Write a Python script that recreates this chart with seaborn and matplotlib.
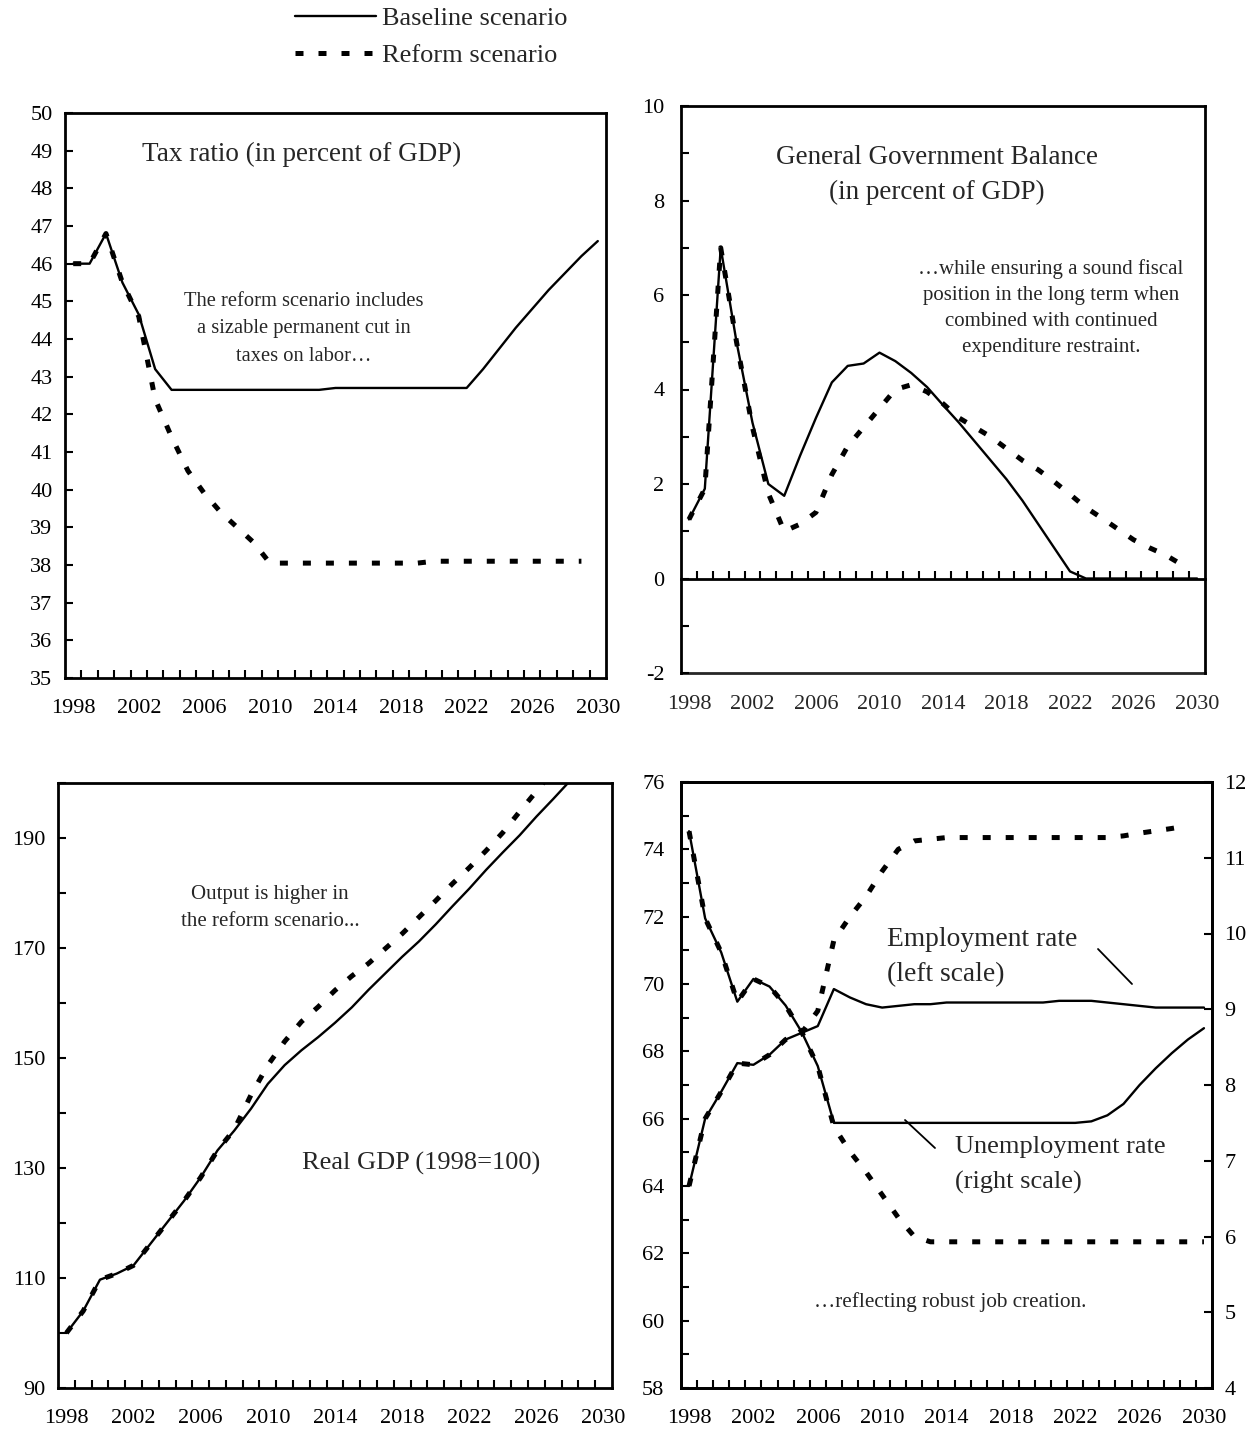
import numpy as np
import pandas as pd
import matplotlib
matplotlib.use("Agg")
import matplotlib.pyplot as plt
import seaborn as sns
from matplotlib.lines import Line2D
from matplotlib.ticker import FixedLocator, MultipleLocator

# =====================================================
# Data
# =====================================================

years = list(range(1998, 2031))
label_years = list(range(1998, 2031, 4))

# Tax ratio (in percent of GDP)
tax_baseline = [46.0, 46.0, 46.8, 45.5, 44.65, 43.2,
                42.65, 42.65, 42.65, 42.65, 42.65, 42.65, 42.65, 42.65, 42.65, 42.65,
                42.7, 42.7, 42.7, 42.7, 42.7, 42.7, 42.7, 42.7, 42.7,
                43.2, 43.75, 44.3, 44.8, 45.3, 45.75, 46.2, 46.6]
tax_reform = [46.0, 46.0, 46.8, 45.5, 44.6, 42.4, 41.4, 40.5, 39.9, 39.4, 39.0, 38.6, 38.05,
              38.05, 38.05, 38.05, 38.05, 38.05, 38.05, 38.05, 38.05, 38.05,
              38.1, 38.1, 38.1, 38.1, 38.1, 38.1, 38.1, 38.1, 38.1, 38.1]

# General government balance (in percent of GDP)
ggb_baseline = [1.25, 1.9, 7.0, 5.0, 3.3, 2.0, 1.75, 2.6, 3.4, 4.15, 4.5, 4.55, 4.78,
                4.6, 4.35, 4.05, 3.67, 3.3, 2.9, 2.5, 2.1, 1.65, 1.15, 0.65, 0.15,
                0.0, 0.0, 0.0, 0.0, 0.0, 0.0, 0.0, 0.0]
ggb_reform = [1.25, 1.9, 7.0, 5.0, 3.2, 1.8, 1.0, 1.15, 1.4, 2.2, 2.8, 3.2, 3.6,
              4.0, 4.1, 3.95, 3.7, 3.4, 3.2, 3.0, 2.75, 2.5, 2.3, 2.05, 1.78,
              1.5, 1.28, 1.05, 0.82, 0.65, 0.5, 0.3]

# Real GDP (1998=100)
gdp_baseline = [100, 104, 109.7, 110.8, 112.3, 116.2, 120.1, 124, 128.3, 133.2,
                136.8, 140.8, 145.3, 148.7, 151.4, 153.8, 156.4, 159.2, 162.4, 165.4,
                168.4, 171.2, 174.3, 177.6, 180.8, 184.2, 187.4, 190.5, 193.9, 197.1,
                200.4, 203.6]
gdp_reform = [100, 104, 109.7, 110.8, 112.3, 116.2, 120.1, 124, 128.3, 133.2,
              137.0, 143.3, 148.7, 153.0, 156.6, 159.3, 162.3, 164.9, 167.2, 169.9,
              172.6, 175.6, 178.6, 181.7, 184.6, 187.7, 191.0, 194.8, 198.5, 202.3]

# Employment rate (left scale)
emp_baseline = [64.0, 66.0, 66.8, 67.65, 67.6, 67.9, 68.35, 68.55, 68.75, 69.85,
                69.6, 69.4, 69.3, 69.35, 69.4, 69.4, 69.45, 69.45, 69.45, 69.45,
                69.45, 69.45, 69.45, 69.5, 69.5, 69.5, 69.45, 69.4, 69.35, 69.3,
                69.3, 69.3, 69.3]
emp_reform = [64.0, 66.0, 66.8, 67.65, 67.6, 67.9, 68.35, 68.55,
              69.2, 71.3, 72.0, 72.6, 73.35, 74.0, 74.25, 74.3,
              74.35, 74.35, 74.35, 74.35, 74.35, 74.35, 74.35, 74.35, 74.35, 74.35, 74.35,
              74.4, 74.48, 74.55, 74.62, 74.7]

# Unemployment rate (right scale)
unemp_baseline = [11.35, 10.2, 9.75, 9.1, 9.4, 9.3, 9.05, 8.7, 8.25, 7.5,
                  7.5, 7.5, 7.5, 7.5, 7.5, 7.5, 7.5, 7.5, 7.5, 7.5, 7.5, 7.5, 7.5, 7.5, 7.5,
                  7.52, 7.6, 7.75, 8.0, 8.22, 8.42, 8.6, 8.75]
unemp_reform = [11.35, 10.2, 9.75, 9.1, 9.4, 9.3, 9.05, 8.7, 8.25,
                7.45, 7.12, 6.85, 6.55, 6.25, 6.0, 5.93,
                5.93, 5.93, 5.93, 5.93, 5.93, 5.93, 5.93, 5.93, 5.93, 5.93,
                5.93, 5.93, 5.93, 5.93, 5.93, 5.93, 5.93]

# =====================================================
# Style
# =====================================================

sns.set_style("ticks")
plt.rcParams["font.family"] = ["Liberation Serif", "DejaVu Serif"]
plt.rcParams["axes.unicode_minus"] = False

W, H = 1258, 1433
fig = plt.figure(figsize=(W / 100, H / 100), dpi=100)

SOLID_LW = 1.7
DASH_LW = 3.6
DASH = (0, (1.6, 3.0))
TICK_SIZE = 16


def px_axes(left, top, right, bottom):
    return fig.add_axes([left / W, 1 - bottom / H, (right - left) / W, (bottom - top) / H])


def ftext(x, y, s, **kw):
    kw.setdefault("ha", "center")
    kw.setdefault("va", "center")
    fig.text(x / W, 1 - y / H, s, **kw)


def fline(x1, y1, x2, y2):
    fig.add_artist(Line2D([x1 / W, x2 / W], [1 - y1 / H, 1 - y2 / H],
                          transform=fig.transFigure, color="black", lw=1.3))


def draw_pair(ax, base, reform):
    sns.lineplot(x=years[:len(base)], y=base, ax=ax, color="black",
                 lw=SOLID_LW, legend=False)
    sns.lineplot(x=years[:len(reform)], y=reform, ax=ax, color="black",
                 lw=DASH_LW, linestyle=DASH, legend=False)


def style_axes(ax, ypad=9, xpad=15):
    for s in ax.spines.values():
        s.set_visible(True)
        s.set_linewidth(2)
        s.set_color("black")
    ax.set_xlim(1997.5, 2030.5)
    ax.set_xticks(label_years)
    ax.set_xticklabels([str(y) for y in label_years])
    ax.xaxis.set_minor_locator(FixedLocator(np.arange(1998.5, 2030.5, 1)))
    ax.tick_params(axis="both", which="both", direction="in", width=1.5,
                   length=6, colors="black", labelsize=TICK_SIZE)
    ax.tick_params(axis="x", which="major", length=0, pad=xpad)
    ax.tick_params(axis="y", which="both", pad=ypad)
    ax.set_xlabel("")
    ax.set_ylabel("")


# =====================================================
# Panel 1: Tax ratio
# =====================================================

ax1 = px_axes(65, 113, 606, 678)
draw_pair(ax1, tax_baseline, tax_reform)
style_axes(ax1)
ax1.set_ylim(35, 50)
ax1.yaxis.set_major_locator(MultipleLocator(1))

ftext(302, 154, "Tax ratio (in percent of GDP)", fontsize=19.5)
ftext(304, 329, "The reform scenario includes\na sizable permanent cut in\ntaxes on labor…",
      fontsize=14.8, linespacing=1.6)

# =====================================================
# Panel 2: General government balance
# =====================================================

ax2 = px_axes(681, 106, 1205, 673)
draw_pair(ax2, ggb_baseline, ggb_reform)
style_axes(ax2, ypad=12)
ax2.set_ylim(-2, 10)
ax2.yaxis.set_major_locator(MultipleLocator(2))
ax2.yaxis.set_minor_locator(MultipleLocator(1))
ax2.spines["bottom"].set_position(("data", 0))
ax2.tick_params(axis="x", which="major", labelbottom=False)

sec = ax2.secondary_xaxis(0.0)
sec.set_xticks(label_years)
sec.set_xticklabels([str(y) for y in label_years])
sec.tick_params(axis="x", length=0, pad=16, labelsize=TICK_SIZE)
sec.spines["bottom"].set_linewidth(2)

ftext(937, 175, "General Government Balance\n(in percent of GDP)", fontsize=19.5,
      linespacing=1.47)
ftext(1051, 308, "…while ensuring a sound fiscal\nposition in the long term when\n"
      "combined with continued\nexpenditure restraint.", fontsize=15, linespacing=1.5)

# =====================================================
# Panel 3: Real GDP
# =====================================================

ax3 = px_axes(58, 783, 612, 1388)
draw_pair(ax3, gdp_baseline, gdp_reform)
style_axes(ax3)
ax3.set_ylim(90, 200)
ax3.yaxis.set_major_locator(FixedLocator(np.arange(90, 200, 20)))
ax3.yaxis.set_minor_locator(FixedLocator(np.arange(100, 201, 20)))

ftext(270, 908, "Output is higher in\nthe reform scenario...", fontsize=15, linespacing=1.54)
ftext(421, 1163, "Real GDP (1998=100)", fontsize=19)

# =====================================================
# Panel 4: Employment and unemployment
# =====================================================

ax4 = px_axes(681, 782, 1212, 1388)
draw_pair(ax4, emp_baseline, emp_reform)
style_axes(ax4, ypad=12)
ax4.set_ylim(58, 76)
ax4.yaxis.set_major_locator(MultipleLocator(2))
ax4.yaxis.set_minor_locator(MultipleLocator(1))

ax4r = ax4.twinx()
draw_pair(ax4r, unemp_baseline, unemp_reform)
ax4r.set_xlim(1997.5, 2030.5)
ax4r.set_ylim(4, 12)
ax4r.yaxis.set_major_locator(MultipleLocator(1))
for s in ax4r.spines.values():
    s.set_linewidth(2)
    s.set_color("black")
ax4r.tick_params(axis="y", direction="in", width=1.5, length=6, pad=9,
                 labelsize=TICK_SIZE, colors="black")
ax4r.set_ylabel("")

ftext(887, 957, "Employment rate\n(left scale)", ha="left", fontsize=19.8, linespacing=1.52)
fline(1098, 949, 1132, 984)
ftext(955, 1165, "Unemployment rate\n(right scale)", ha="left", fontsize=19, linespacing=1.72)
fline(905, 1120, 935, 1148)
ftext(950, 1302, "…reflecting robust job creation.", fontsize=15.3)

# =====================================================
# Legend
# =====================================================

handles = [Line2D([], [], color="black", lw=SOLID_LW),
           Line2D([], [], color="black", lw=DASH_LW, linestyle=DASH)]
fig.legend(handles, ["Baseline scenario", "Reform scenario"], loc="upper left",
           bbox_to_anchor=(284 / W, 1.0025), frameon=False, fontsize=19,
           handlelength=3.1, handletextpad=0.2, labelspacing=0.49, borderaxespad=0.0)

fig.savefig("out.png", dpi=100, facecolor="white")
plt.close(fig)
